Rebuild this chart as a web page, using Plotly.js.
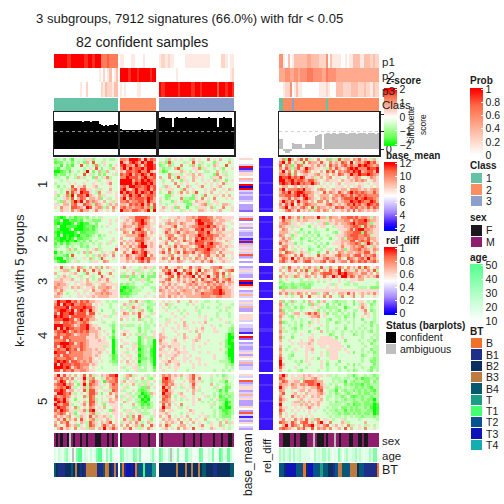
<!DOCTYPE html>
<html><head><meta charset="utf-8">
<script src="https://cdn.plot.ly/plotly-3.0.1.min.js"></script>
<style>html,body{margin:0;padding:0;background:#fff}#c{width:504px;height:504px}</style>
</head><body><div id="c"></div>
<script>
// ---------- probabilities per sample (digit / 9) ----------
const p1a="999999889999998899899966676666", p1b="11000110000100000", p1c="12212110000011111111111100000221011", p1d="55103013333334433332225031111001011333113332322";
const p2a="000000000000000000000102013013", p2b="99998999899999899", p2c="00000000100000000000000000000000012", p2d="44455445545556665555446555544444444444444444444";
const p3a="000000000000100200000021322133", p3b="10100000110000000", p3c="98899999989999988998999999979998998", p3d="00122501311000000001112100033322223332223221322";
// ---------- class per sample ----------
const classA="1".repeat(30), classB="2".repeat(17), classC="3".repeat(35), classD="11222232222222222222221222222222222222222222222";
// ---------- silhouette ----------
const silA=[.8,.8,.8,.8,.8,.8,.8,.8,.8,.8,.8,.8,.8,.76,.8,.8,.8,.77,.8,.8,.8,.72,.7,.66,.68,.66,.68,.7,.72,.68];
const silB=[.56,.55,.54,.55,.54,.55,.54,.55,.54,.55,.56,.55,.54,.55,.54,.55,.56];
const silC=[.9,.92,.91,.9,.9,.9,.63,.9,.91,.9,.9,.9,.91,.9,.9,.9,.9,.9,.91,.9,.9,.9,.9,.91,.9,.9,.9,.63,.9,.9,.91,.9,.9,.9,.64];
const silD=[.3,.28,-.05,-.1,-.1,-.06,.17,.15,.14,.15,.14,.02,.14,.14,.15,.14,.14,.38,.4,.42,-.02,.44,.46,.45,.44,.46,.45,.44,.45,.46,.45,.43,.44,.46,.47,.45,.44,.46,.45,.47,.46,.44,.45,.47,.46,.44,.45];
// ---------- z-scores, digit 0..9 = strongly green .. strongly red ----------
const Z1a=["2342431444355244434334","1224342434264844354444","3314231448434373454245","2143224444345484244364","0012315434394246336445","1322434344845342524453","3344244365344264357344","4434544444454453445544","3444454544544544545744","4243448455744564444544","4434537858855453544644","5434838659885437445545","5245729488796546354445","3445638468746656245345","4326537979586765464535","5546647855876376543656","5475548876598567636475","4465547568664575545464"];
const Z1b=["776999859687","965898697996","897769758998","796978897998","658878977965","878968798698","779888689778","999968798987","999979899897","786998878978","896579778968","979879798797","686978967887","795878887986","778677886976","665878796858","786767786728","977688767939"];
const Z1c=["4436454544364544745464434","3528344435484534442544464","2346344744364254346544844","5233468344455735443452445","3124444654345443344643544","4447355345564654442745344","6447438554465454435574544","4344644255464454546354245","4544474545445445454547544","4365447446544574454564444","5455544375454445456445465","3447345746458445464454544","4422544544425437445546464","5423444733225474547444545","3444254522346555345544444","5434454442254567354546654","4654526441443555463447445","5544544354544665454564445"];
const Z1d=["5729646848354744625383664768565364","7958465384766585475658759467689785","8476258735565756486757868669898767","7586368569765545375865689897779889","6957475678645464868476787989678869","7768374566556755646587569779889876","9889787985563564674554465676445765","9978978876886545655546556576764565","8987989787797645454564555545545455","5664564656554454544555454556544545","7957778796654676456556647776565676","6879689987765548576586579787876686","7788789798664566646768768678787777","5668576589765467657657888797898876","6976859677564774746756779889877986","7586947578766555786565687978679878","6795765786483766565878668786768687","4578658565636757646556575857656565"];
const Z2a=["2101423122324343544444","1140021121433222444545","1010001410113424444544","2400111100122124345444","2100014000112134444445","1010000141122234444544","2040100102212342434444","1100101411223443344454","2101011023242434444534","1313123332334343543544","2344243442324443444445","3444365244434563544448","0324333434636444354564","2332148444434356465474","1004233544546343854454","3100234534443554476444"];
const Z2b=["555668888755","456568897645","565576898655","576656886654","665558975655","476486787465","556666897554","644557786645","565658886555","746565796565","565756899565","556476686555","475598689655","658656789475","557657897866","556565786855"];
const Z2c=["5445556556676888775665555","4556465556658988876566554","5467665765557997885665445","6555684565677888978656544","4567465766558897775757445","4586568567665887965665555","5467745675667987887756545","6458675574658798786565555","4565746586659887776554654","5574466545768886897765454","7456585766546897887565655","5648465575668778976656544","6857468487685678866475555","4556745566455747855757445","5764858465647657564565545","5546557654565575685456554"];
const Z2d=["6958657376665966376657788786776365","5866356566555355565666775878897665","6776554554454556255656678978886255","7655355444245455443555667887386765","5764544244443444244455568589977655","6665453434243344443245677888286655","7645254433434244344555678887787355","5756344234343434424456377887768665","6675444344234344444556668857878565","8565524344443434245556567787369756","5774545444344243444457556767865365","7864534544234434534656256778676576","6487654655344244745476566567688564","8765475854544856555786675788576785","6875957576765557866575487657869675","7865686578856678578567758768786786"];
const Z3a=["5483546476346463746544","4456634484754856444454","6445455644374548445744","4356534453445344854454","5565556445464346557444","6665454555465455456544","6766544545566545665555","7665546565455646667645","6575444544554755676555","5764344454545566767655","6654454455455656666555"];
const Z3b=["574544356553","445453354434","534464534352","226323414222","444243353244","445434454324","232334443344","101223434433","012133344443","111233444544","232344445445"];
const Z3c=["6584557645856754467785445","4768595486746947657645678","5589659758948576547858464","6457848576794856956847365","5578457565657486568756785","6756546575686567875858576","4657565456767565767676565","6575656656565767576886655","7656565676657656678897665","5656667566656687778898665","6657565656666677766776665"];
const Z3d=["5638556465756385375486475658386456","6457574738357646586794765375657583","4645546556476578886698977665775646","7565376457646458659759968757656568","3454444344544545454454545556644444","2344344333334343444454435544444443","3233233223234444453544334334444443","1223223322244444544544444443334222","5655555555555555555555555555555555","7573657646466346745466585745656575","4454344744844547474437445744644454"];
const Z4a=["6988997868786655443433","7959889778877454544344","8888958888988654444344","7899879589869654244434","8598899788858845444435","9898858888877644455344","8889988579786654544444","7758878767875444534434","9998887568896554444324","9597988778896656444424","7889857878786665454414","6877887567775565445424","8858877777755565454314","7778587777765556554403","8899988578765555555403","8589887778765555535403","7877987858766565554403","9888587777666556545403","7858877777666565444312","8777887577667545444412","8989858876767554544322","9598887887775654444433","9998985787664544344444","8858778667765544444444"];
const Z4b=["444637453234","465354534333","343575544234","554354364324","476465854435","555444845344","645434634434","444444443434","353334343343","344444243344","455444243435","574543533445","445444135335","544444134330","455453134330","644455123320","445454023410","453445123310","545544023410","454545122320","546454033420","445545233430","534455343441","443445333442"];
const Z4c=["4545446444645443344344444","5463544443454434444434443","4543434444443434344344534","4454445434445344444434344","4444544345444344444344434","3444454454444545444344434","4435444544444445434454444","4455454464454546444444534","5454445465444454454434443","4544545455445464445444432","4544454444546454445544432","6544445464444644444444301","6654454465445644444444300","7544564454456544544444201","6554555444454445444454200","5656555454454544444444210","6545465454454444444454300","5554556555444544544444200","6455565454544444445444300","5454654455445544445444310","4557555454544544444433320","5465456444454545444444332","5445455444454444444444343","4544454443444444443443434"];
const Z4d=["6243634424654256443233344245543424","7524344344263544243424344243654234","6533424234454534233344134445754344","7243344344445243434324344334574234","6634566456868645243343434244465434","7543245444566745444334234244545434","6444344344454544324434344344244434","7234434344254544344234434344434234","6443434244544454344444344344344243","6344324344445244344344244343434343","7534434444244464343443443434343243","6444344544454444423443444234344433","7344244444554455554245444444344343","6445444544564555555544244443443423","5444545555654555555554444444344234","6443444545554455455555424444434433","7434454445564444555554544444344233","6444344445454454355544454244343423","7443244445444454355544444444234433","8543444445454244455544444444344323","9444434245444454344424444444344223","9644443444544454244344434243444423","8544454443444454344434244344344233","6443443244444344344434434234443243"];
const Z5a=["6958564645847354656889","7686757455936744357678","5798465345747865416778","7889676425938765454687","6787985345637655344677","8898566454838854455387","5998785345458864244756","8678764544738744545547","9879654244548734544656","6989754454638854355665","9768853445748754524555","7988654734547645464455","8698755355738954544265","6787465245546735445455","7565674536548565565345","5758365748546735546545","6476854546538654656845","7545865625438754686575","4685654745536646595686"];
const Z5b=["456735445345","436454464324","564553433545","345464353534","453444322645","534454212344","445343301265","354534120134","543543301044","465443210234","344464312134","544433423234","435545343445","545354533345","546374854435","475365844524","355647534654","647456374485","465845354754"];
const Z5c=["5767565645685544454342344","4897554345684744434443544","3887644454675534434433144","5786754544585444464344234","4967454354574544443543124","5896544445465344444313144","4977545644464454443423233","5787434554454445343412323","4876454345454644434522133","6776544444454434343433013","4857454744454444453432023","5966445345444444434412003","6745544444654444443431123","5565444345454454443432123","6457454546444545343432224","4656546454645446444343534","5465654745464544354464635","6486445664544574454463454","4564547465484454465445434"];
const Z5d=["7964545565654554534344433134434323","8754555365567544443334334323122332","6875566478887664443433143233322423","7665765776887965434344232322132333","9654665565566875344234343323232133","7644545664655784433143233232323213","6844564546555675434234323432322323","7544856565465654334332342123233233","8654445654555564344343233233232203","7544566365645654434233343223322313","9444555656565644433334323122322201","7554454545754544343342232323323101","8644545454545443433233132322332201","7454454444544444343323223232322301","6454654545454444434334343433233323","5745475648536745543445344443444443","8765864788564795474446534444464444","4695876487895657845645473545435434","7876547685484767574564846445474454"];
// ---------- base_mean (hex digit + 2) and rel_diff (digit * 0.04) per row ----------
const base1="6554a13665745a0a43433453332", base2="49254635433419174646493453", base3="3464335a0a653474", base4="464733566645443315a25343346365473445", base5="6459346634746333653941436543";
const rel1="222232222222322222322222232", rel2="22232222222232222232222222", rel3="2223222-22223222", rel4="222222322222223322222223222222322222", rel5="2222232222222322222222322222";
// ---------- sample annotations ----------
const sexA="MFMFMMFNMFMMFMMFMMMFFFMMMFMFMM", sexB="FMMMMMMMMFMMMFMMM", sexC="MFMMMMMMMMMFMMMMFMMFMMMMMFMMMFMMFFM", sexD="MMFFFMMFMMFFFMMMNMFFFMFMMMNMFMMMMFFMMFFMFFMMMMM";
const ageA="213214621N1799132131279921627211", ageB="7623222762711111362", ageC="86214N3171117331118711327119622831", ageD="5252351523422221152325525212173135223524212252771";
const btA="421112224232121333331114032131", btB="40188280477677755", btC="22222222322232232232442221122222244", btD="47288884770288774574221733447333247111110";
const btNames=["B","B1","B2","B3","B4","T","T1","T2","T3","T4"];
const classNames=["1","2","3"], sexNames=["F","M"], statusNames=["confident","ambiguous"];
const btColors=["#ef712a","#1d2f88","#0b2f60","#bd7b40","#055a70","#1a9e84","#42ff72","#06538f","#0e14b8","#12aeb0"];
const classColors=["#66c2a5","#fc8d62","#8da0cb"], sexColors=["#1a1a1e","#8f1e6f","#bebebe"], statusColors=["#000000","#bebebe"];
const zTicks=[-2,-1,0,1,2], baseTicks=[2,4,6,8,10,12], relTicks=[0,.2,.4,.6,.8,1], probTicks=[0,.2,.4,.6,.8,1], ageTicks=[10,20,30,40,50];
const rowLabels=["1","2","3","4","5"];

// ---------- geometry ----------
const FONT="Liberation Sans";
const groups=[[54,118],[120,156],[159,234],[279,379]];
const blocks=[[158,212],[216,263],[266,298],[300,372],[374,430]];
const layout={width:504,height:504,margin:{l:0,r:0,t:0,b:0,autoexpand:false},paper_bgcolor:"#fff",plot_bgcolor:"rgba(0,0,0,0)",showlegend:false,bargap:0,barmode:"overlay",annotations:[],shapes:[],font:{family:FONT,color:"#1a1a1a"}};
const traces=[];let ax=2;
function xa(l,r,extra){const n=ax++;layout["xaxis"+n]=Object.assign({domain:[l/504,r/504],range:[0,1],visible:false,fixedrange:true,showgrid:false,zeroline:false},extra||{});return n;}
function ya(t,b,extra){const n=ax++;layout["yaxis"+n]=Object.assign({domain:[1-b/504,1-t/504],range:[1,0],visible:false,fixedrange:true,showgrid:false,zeroline:false},extra||{});return n;}
function pair(l,r,t,b){const x=xa(l,r),y=ya(t,b);layout["xaxis"+x].anchor="y"+y;layout["yaxis"+y].anchor="x"+x;return [x,y];}
function cs(lo,hi,stops){const o=[];if(stops[0][0]>lo)o.push([0,stops[0][1]]);stops.forEach(s=>o.push([(s[0]-lo)/(hi-lo),s[1]]));if(stops[stops.length-1][0]<hi)o.push([1,stops[stops.length-1][1]]);return o;}
function disc(c){const o=[];c.forEach((k,i)=>{o.push([i/c.length,k]);o.push([(i+1)/c.length,k]);});return o;}
function heat(x,y,rows,opt){const nr=rows.length,nc=Math.max.apply(null,rows.map(r=>r.length));traces.push(Object.assign({type:"heatmap",xaxis:"x"+x,yaxis:"y"+y,z:rows,x0:.5/nc,dx:1/nc,y0:.5/nr,dy:1/nr,showscale:false,hoverinfo:"skip",zsmooth:false},opt));}
function note(text,px,py,o){const opt=o||{};const left=!opt.xanchor;layout.annotations.push(Object.assign({text:text,x:(left?px-2:px)/504,y:1-py/504,xref:"paper",yref:"paper",showarrow:false,xanchor:"left",yanchor:"middle",align:"left",font:{size:10.5,family:FONT,color:"#1a1a1a"}},opt));}
function cbar(px,top,bottom,ticks){return {x:px/504,xanchor:"left",xpad:0,xref:"paper",y:1-top/504,yanchor:"top",yref:"paper",ypad:0,len:bottom-top,lenmode:"pixels",thickness:13,thicknessmode:"pixels",outlinewidth:0,tickvals:ticks,ticks:"inside",ticklen:2,tickcolor:"#fff",tickwidth:1,tickfont:{size:10.5,family:FONT,color:"#1a1a1a"},borderwidth:0};}
const digits=s=>s.split("").map(Number);
const zValue=d=>{const s=d<4.5?-1:1;return s*(.2+Math.abs(d-4.5)*.4);};

// colour scales (the reference ramps bend through salmon, pale green and lavender)
const zLo=-2.08,zHi=2.08,bLo=1.6,bHi=12.2,rLo=-.02,rHi=1.02,pLo=0,pHi=1.02,aLo=9,aHi=51;
const zScale=cs(zLo,zHi,[[-2,"#00ff00"],[-1.5,"#64ff50"],[-1,"#9bff89"],[-.5,"#d2ffc8"],[0,"#ffffff"],[.5,"#ffd0c0"],[1,"#ff9e81"],[1.5,"#ff6a48"],[2,"#ff0000"]]);
const bScale=cs(bLo,bHi,[[2,"#0000ff"],[2.8,"#3a14ff"],[4.5,"#a688ff"],[5.8,"#d3c6ff"],[7,"#ffffff"],[8.25,"#ffd0c0"],[9.5,"#ff9e81"],[10.75,"#ff6a48"],[12,"#ff0000"]]);
const rScale=cs(rLo,rHi,[[0,"#0000ff"],[.08,"#3a14ff"],[.25,"#a688ff"],[.38,"#d3c6ff"],[.5,"#ffffff"],[.625,"#ffd0c0"],[.75,"#ff9e81"],[.875,"#ff6a48"],[1,"#ff0000"]]);
const pScale=cs(pLo,pHi,[[0,"#ffffff"],[.25,"#ffd0c0"],[.5,"#ff9e81"],[.75,"#ff6a48"],[1,"#ff0000"]]);
const aScale=cs(aLo,aHi,[[10,"#ffffff"],[30,"#b0ffc5"],[50,"#55ff90"]]);

// annotation bands
const xIds=groups.map(g=>xa(g[0],g[1]));
const pRows=[[[p1a,p1b,p1c,p1d],54,68],[[p2a,p2b,p2c,p2d],68,82],[[p3a,p3b,p3c,p3d],82,97]];
let probBar=false;
pRows.forEach(r=>{const y=ya(r[1],r[2]);r[0].forEach((s,i)=>{const o={zmin:pLo,zmax:pHi,colorscale:pScale};if(!probBar){o.showscale=true;o.colorbar=cbar(470,88,155,probTicks);probBar=true;}heat(xIds[i],y,[digits(s).map(d=>d/9)],o);});});
const yClass=ya(98,112);
[classA,classB,classC,classD].forEach((s,i)=>heat(xIds[i],yClass,[digits(s)],{zmin:.5,zmax:3.5,colorscale:disc(classColors)}));

// silhouette
const silTop=112,silBot=155;
[silA,silB,silC,silD].forEach((vals,i)=>{
  const last=i===3, g=groups[i];
  const x=xa(g[0],g[1],{visible:true,showline:true,mirror:true,linecolor:"#222",linewidth:1.5,ticks:"",showticklabels:false});
  const y=ya(silTop,silBot,{visible:true,range:[-.17,1.06],showline:true,mirror:true,linecolor:"#222",linewidth:1.5,side:last?"right":"left",
    ticks:last?"outside":"",ticklen:3,tickcolor:"#222",tickvals:last?[0,.5,1]:[],ticktext:["0","",""],showticklabels:last,tickfont:{size:11,family:FONT,color:"#1a1a1a"}});
  layout["xaxis"+x].anchor="y"+y;layout["yaxis"+y].anchor="x"+x;
  traces.push({type:"bar",xaxis:"x"+x,yaxis:"y"+y,x:vals.map((v,k)=>(k+.5)/vals.length),y:vals,width:1/vals.length,marker:{color:last?"#bebebe":"#000",line:{width:0}},hoverinfo:"skip"});
  layout.shapes.push({type:"line",xref:"x"+x,yref:"y"+y,x0:0,x1:1,y0:.5,y1:.5,line:{color:last?"#cfcfcf":"#9a9a9a",width:1,dash:"3px,3px"}});
});

// main heatmap blocks
const Zs=[[Z1a,Z1b,Z1c,Z1d],[Z2a,Z2b,Z2c,Z2d],[Z3a,Z3b,Z3c,Z3d],[Z4a,Z4b,Z4c,Z4d],[Z5a,Z5b,Z5c,Z5d]];
const xBase=xa(239,253), xRel=xa(259,273);
const bases=[base1,base2,base3,base4,base5], rels=[rel1,rel2,rel3,rel4,rel5];
let zBar=false,bBar=false,rBar=false;
blocks.forEach((b,i)=>{
  const y=ya(b[0],b[1]);
  Zs[i].forEach((rows,j)=>{
    const o={zmin:zLo,zmax:zHi,colorscale:zScale};
    if(!zBar){o.showscale=true;o.colorbar=cbar(384,88,146,zTicks);zBar=true;}
    heat(xIds[j],y,rows.map(r=>digits(r).map(zValue)),o);
  });
  const ob={zmin:bLo,zmax:bHi,colorscale:bScale};
  if(!bBar){ob.showscale=true;ob.colorbar=cbar(384,162,231,baseTicks);bBar=true;}
  heat(xBase,y,bases[i].split("").map(c=>[parseInt(c,16)+2]),ob);
  const or={zmin:rLo,zmax:rHi,colorscale:rScale};
  if(!rBar){or.showscale=true;or.colorbar=cbar(384,247,315,relTicks);rBar=true;}
  heat(xRel,y,rels[i].split("").map(c=>[c==="-"?null:Number(c)*.04]),or);
  note(rowLabels[i],42,(b[0]+b[1])/2,{xanchor:"center",textangle:-90,font:{size:13,family:FONT,color:"#1a1a1a"}});
});

// bottom bands
const ySex=ya(433,447), yAge=ya(448,462), yBT=ya(463,477);
const sexMap={F:0,M:1,N:2};
let aBar=false;
[sexA,sexB,sexC,sexD].forEach((s,i)=>heat(xIds[i],ySex,[s.split("").map(c=>sexMap[c])],{zmin:-.5,zmax:2.5,colorscale:disc(sexColors)}));
[ageA,ageB,ageC,ageD].forEach((s,i)=>{
  const o={zmin:aLo,zmax:aHi,colorscale:aScale};
  if(!aBar){o.showscale=true;o.colorbar=cbar(470,264,323,ageTicks);aBar=true;}
  heat(xIds[i],yAge,[s.split("").map(c=>c==="N"?null:10+Number(c)*4.4)],o);
  heat(xIds[i],yAge,[s.split("").map(c=>c==="N"?1:null)],{zmin:0,zmax:1,colorscale:[[0,"#bebebe"],[1,"#bebebe"]]});
});
[btA,btB,btC,btD].forEach((s,i)=>heat(xIds[i],yBT,[digits(s)],{zmin:-.5,zmax:9.5,colorscale:disc(btColors)}));

// discrete legends
function legend(l,r,t,b,names,colors,size){
  const p=pair(l,r,t,b),Y=layout["yaxis"+p[1]];
  const n=names.length;
  Object.assign(Y,{visible:true,side:"right",showline:false,ticks:"",tickvals:names.map((_,i)=>(i+.5)/n),ticktext:names,ticklabelstandoff:3,tickfont:{size:size||10.5,family:FONT,color:"#1a1a1a"}});
  heat(p[0],p[1],names.map((_,i)=>[i]),{zmin:-.5,zmax:n-.5,colorscale:disc(colors),ygap:1});
}
legend(471,482,173,207,classNames,classColors);
legend(471,482,225,248,sexNames,sexColors.slice(0,2));
legend(386,396,332,355,statusNames,statusColors);
legend(471,482,338,451,btNames,btColors);

// text
note("3 subgroups, 7912 signatures (66.0%) with fdr &lt; 0.05",36,19,{font:{size:13.05,family:FONT,color:"#1a1a1a"}});
note("82 confident samples",76,42,{font:{size:14,family:FONT,color:"#1a1a1a"}});
note("k-means with 5 groups",19,281,{xanchor:"center",textangle:-90,font:{size:13.2,family:FONT,color:"#1a1a1a"}});
[["p1",62],["p2",76],["p3",91],["Class",105],["sex",441],["age",456]].forEach(t=>note(t[0],382,t[1],{font:{size:11.5,family:FONT,color:"#1a1a1a"}}));
note("BT",382,470,{font:{size:12.5,family:FONT,color:"#1a1a1a"}});
[["z-score",386,81],["base_mean",386,155],["rel_diff",386,240],["Status (barplots)",386,325],["Prob",470,81],["Class",470,166],["sex",470,217],["age",470,257],["BT",470,331]].forEach(t=>note("<b>"+t[0]+"</b>",t[1],t[2],{font:{size:10,family:FONT,color:"#1a1a1a"}}));
note("Silhouette",411,125,{xanchor:"center",textangle:-90,font:{size:8.5,family:FONT,color:"#1a1a1a"}});
note("score",423,125,{xanchor:"center",textangle:-90,font:{size:8.5,family:FONT,color:"#1a1a1a"}});
note("base_mean",248,465,{xanchor:"center",textangle:-90,font:{size:12,family:FONT,color:"#1a1a1a"}});
note("rel_diff",267,456,{xanchor:"center",textangle:-90,font:{size:11.5,family:FONT,color:"#1a1a1a"}});

Plotly.newPlot("c",traces,layout,{staticPlot:true,displayModeBar:false});
</script></body></html>
